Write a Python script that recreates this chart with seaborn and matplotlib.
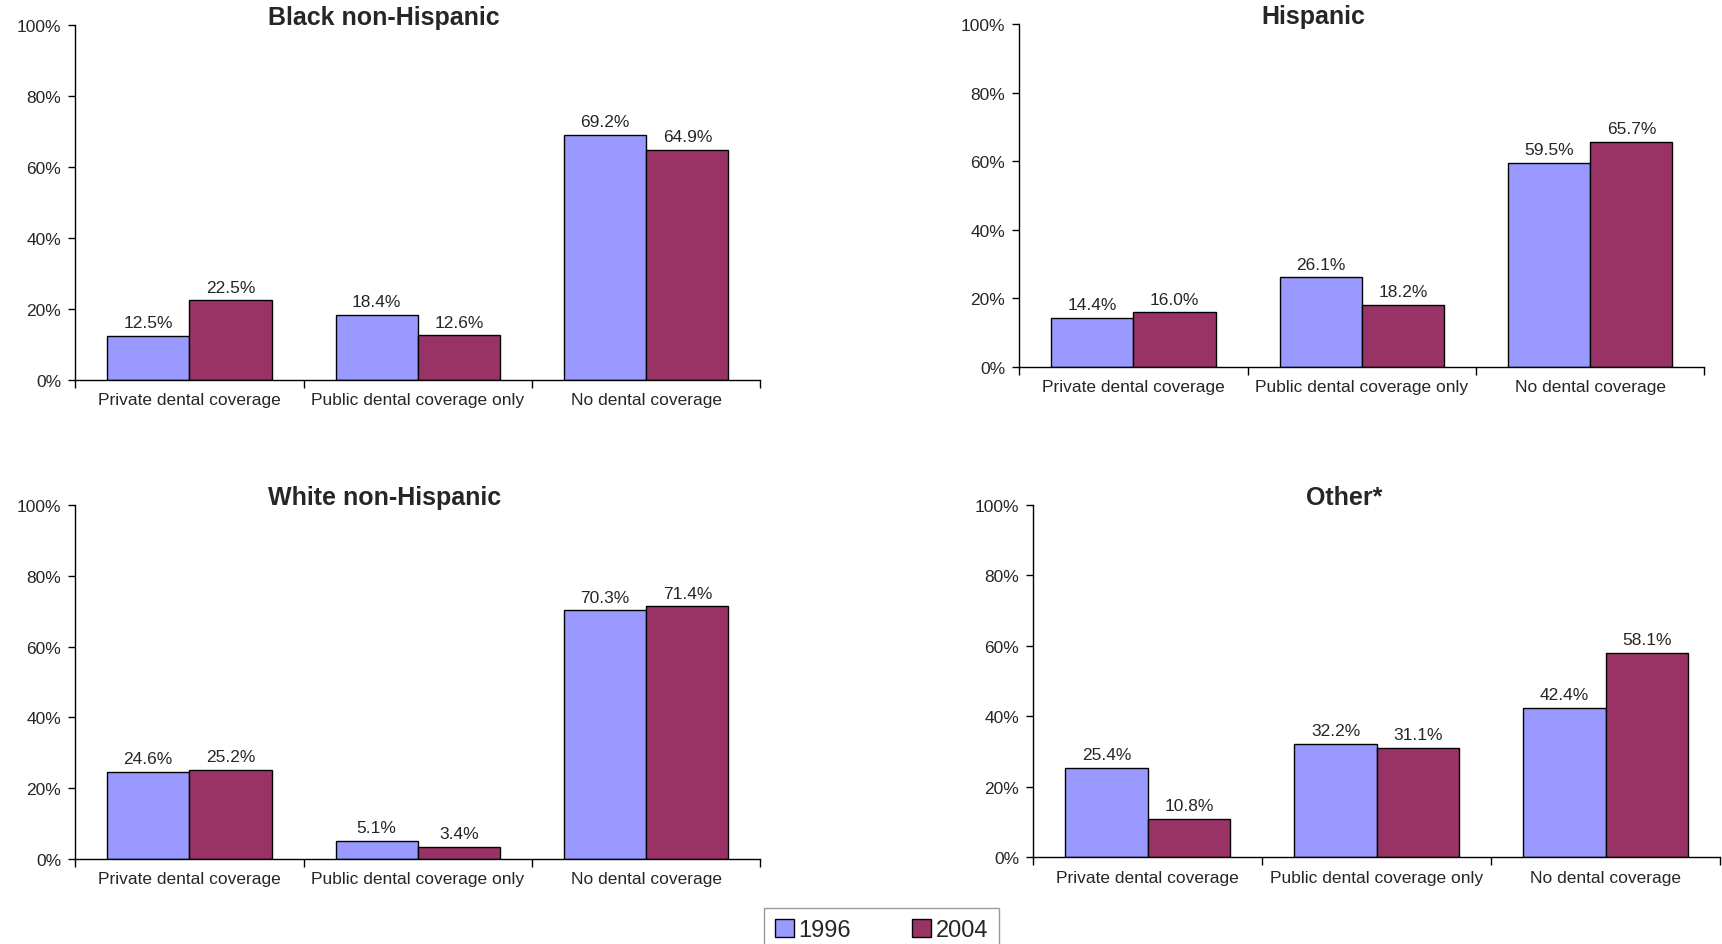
import pandas as pd
import seaborn as sns
import matplotlib.pyplot as plt
from matplotlib.patches import Patch

# -----------------
# Data
# -----------------
categories = ["Private dental coverage", "Public dental coverage only", "No dental coverage"]
years = ["1996", "2004"]

black_1996 = [12.5, 18.4, 69.2]
black_2004 = [22.5, 12.6, 64.9]
hisp_1996 = [14.4, 26.1, 59.5]
hisp_2004 = [16.0, 18.2, 65.7]
white_1996 = [24.6, 5.1, 70.3]
white_2004 = [25.2, 3.4, 71.4]
other_1996 = [25.4, 32.2, 42.4]
other_2004 = [10.8, 31.1, 58.1]

panels = [
    ("Black non-Hispanic", black_1996, black_2004),
    ("Hispanic", hisp_1996, hisp_2004),
    ("White non-Hispanic", white_1996, white_2004),
    ("Other*", other_1996, other_2004),
]

colors = {"1996": "#9999FF", "2004": "#993366"}

# axes boxes in figure fractions [left, bottom, width, height]
boxes = [
    [0.0436, 0.597, 0.398, 0.375],
    [0.5918, 0.6106, 0.398, 0.363],
    [0.0436, 0.090, 0.398, 0.3746],
    [0.600, 0.092, 0.399, 0.3725],
]
title_x = [0.451, 0.429, 0.451, 0.453]

sns.set_theme(style="ticks")
plt.rcParams["font.family"] = ["Liberation Sans", "DejaVu Sans"]

fig = plt.figure(figsize=(17.22, 9.45), dpi=100)

for (title, v96, v04), box, tx in zip(panels, boxes, title_x):
    ax = fig.add_axes(box)
    df = pd.DataFrame({
        "coverage": categories * 2,
        "pct": v96 + v04,
        "year": [years[0]] * 3 + [years[1]] * 3,
    })
    sns.barplot(data=df, x="coverage", y="pct", hue="year", palette=colors,
                width=0.72, gap=0, edgecolor="black", linewidth=1.0,
                saturation=1, legend=False, ax=ax, errorbar=None)
    for cont in ax.containers:
        ax.bar_label(cont, fmt="%.1f%%", padding=4, fontsize=12.5)
    ax.set_xlim(-0.5, 2.5)
    ax.set_ylim(0, 100)
    ax.set_yticks([0, 20, 40, 60, 80, 100])
    ax.set_yticklabels([f"{t}%" for t in range(0, 101, 20)], fontsize=12.5)
    ax.set_xticks([-0.5, 0.5, 1.5, 2.5])
    ax.set_xticklabels([])
    ax.set_xticks([0, 1, 2], minor=True)
    ax.set_xticklabels(categories, minor=True, fontsize=12.5)
    ax.tick_params(axis="x", which="minor", length=0, pad=9)
    ax.tick_params(axis="x", which="major", length=6, width=1, color="black")
    ax.tick_params(axis="y", length=5, width=1, color="black", pad=5)
    ax.set_xlabel("")
    ax.set_ylabel("")
    sns.despine(ax=ax)
    for s in ["left", "bottom"]:
        ax.spines[s].set_color("black")
        ax.spines[s].set_linewidth(1.0)
    ax.text(tx, 1.003, title, transform=ax.transAxes, ha="center", va="baseline",
            fontsize=18, fontweight="bold")

handles = [Patch(facecolor=colors[y], edgecolor="black", label=y) for y in years]
leg = fig.legend(handles=handles, loc="upper center", bbox_to_anchor=(0.512, 0.038),
                 ncol=2, frameon=True, fancybox=False, fontsize=17,
                 handlelength=0.8, handleheight=0.8, handletextpad=0.2,
                 columnspacing=2.6, borderpad=0.45, borderaxespad=0)
leg.get_frame().set_edgecolor("#808080")
leg.get_frame().set_linewidth(1.0)

fig.savefig("out.png", dpi=100)
